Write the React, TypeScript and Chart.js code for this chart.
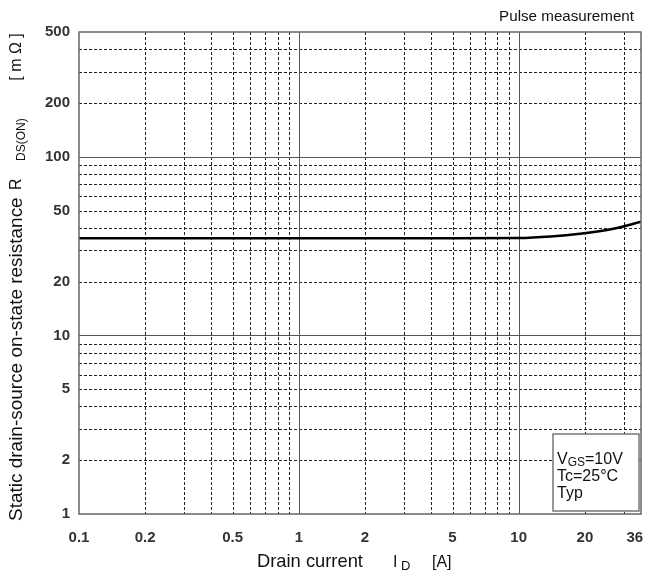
import React, { useEffect, useRef } from "react";
import { Chart, registerables } from "chart.js";
Chart.register(...registerables);

// Data
const currentA = [0.1, 0.5, 1, 5, 10, 14, 19, 27, 36];
const resistanceMOhm = [35, 35, 35, 35, 35.1, 35.8, 37.1, 39.6, 43.3];

const xTickValues = [0.1, 0.2, 0.5, 1, 2, 5, 10, 20, 36];
const yTickValues = [1, 2, 5, 10, 20, 50, 100, 200, 500];

const xGridSolid = [1, 10];
const xGridDashed = [0.2, 0.3, 0.4, 0.5, 0.6, 0.7, 0.8, 0.9, 2, 3, 4, 5, 6, 7, 8, 9, 20, 30];
const yGridSolid = [10, 100];
const yGridDashed = [2, 3, 4, 5, 6, 7, 8, 9, 20, 30, 40, 50, 60, 70, 80, 90, 200, 300, 400];

const yTitleMain = "Static drain-source on-state resistance";
const yTitleSymbol = "R";
const yTitleSub = "DS(ON)";
const yTitleUnit = "[mΩ]";
const xTitleMain = "Drain current";
const xTitleSymbol = "I";
const xTitleSub = "D";
const xTitleUnit = "[A]";
const topNote = "Pulse measurement";
const boxLines = [
  [{ t: "V", s: 16, dy: 0 }, { t: "GS", s: 12, dy: 2 }, { t: "=10V", s: 16, dy: 0 }],
  [{ t: "Tc=25°C", s: 16, dy: 0 }],
  [{ t: "Typ", s: 16, dy: 0 }],
];

const FONT = "'Liberation Sans', Arial, sans-serif";

function fitSize(ctx: CanvasRenderingContext2D, text: string, width: number, base: number) {
  ctx.font = `${base}px ${FONT}`;
  const w = ctx.measureText(text).width;
  return Math.max(base * 0.8, Math.min(base * 1.25, (base * width) / w));
}

const decorPlugin = {
  id: "decor",
  beforeDatasetsDraw(chart: any) {
    const { ctx, chartArea: a, scales } = chart;
    const xs = scales.x;
    const ys = scales.y;
    ctx.save();
    ctx.strokeStyle = "#222";
    ctx.lineWidth = 1;
    ctx.setLineDash([3, 2]);
    for (const v of xGridDashed) {
      const px = Math.round(xs.getPixelForValue(v)) + 0.5;
      ctx.beginPath();
      ctx.moveTo(px, a.top);
      ctx.lineTo(px, a.bottom);
      ctx.stroke();
    }
    for (const v of yGridDashed) {
      const py = Math.round(ys.getPixelForValue(v)) + 0.5;
      ctx.beginPath();
      ctx.moveTo(a.left, py);
      ctx.lineTo(a.right, py);
      ctx.stroke();
    }
    ctx.setLineDash([]);
    ctx.strokeStyle = "#555";
    for (const v of xGridSolid) {
      const px = Math.round(xs.getPixelForValue(v)) + 0.5;
      ctx.beginPath();
      ctx.moveTo(px, a.top);
      ctx.lineTo(px, a.bottom);
      ctx.stroke();
    }
    for (const v of yGridSolid) {
      const py = Math.round(ys.getPixelForValue(v)) + 0.5;
      ctx.beginPath();
      ctx.moveTo(a.left, py);
      ctx.lineTo(a.right, py);
      ctx.stroke();
    }
    ctx.restore();
  },
  afterDraw(chart: any) {
    const { ctx, chartArea: a } = chart;
    ctx.save();
    ctx.strokeStyle = "#666";
    ctx.lineWidth = 1.5;
    ctx.strokeRect(a.left, a.top, a.right - a.left, a.bottom - a.top);

    const bx = a.right - 88, by = a.bottom - 80, bw = 86, bh = 77;
    ctx.fillStyle = "#fff";
    ctx.fillRect(bx, by, bw, bh);
    ctx.strokeStyle = "#777";
    ctx.lineWidth = 1.5;
    ctx.strokeRect(bx, by, bw, bh);
    ctx.fillStyle = "#111";
    ctx.textBaseline = "alphabetic";
    ctx.textAlign = "left";
    boxLines.forEach((parts, i) => {
      let x = bx + 4;
      const y = by + 30 + i * 17;
      for (const p of parts) {
        ctx.font = `${p.s}px ${FONT}`;
        ctx.fillText(p.t, x, y + p.dy);
        x += ctx.measureText(p.t).width;
      }
    });

    ctx.font = `${fitSize(ctx, topNote, 135, 14)}px ${FONT}`;
    ctx.textAlign = "right";
    ctx.textBaseline = "middle";
    ctx.fillText(topNote, 634, 17);

    ctx.textAlign = "left";
    ctx.textBaseline = "alphabetic";
    const xm = fitSize(ctx, xTitleMain, 106, 16);
    ctx.font = `${xm}px ${FONT}`;
    ctx.fillText(xTitleMain, 257, 567);
    ctx.font = `16px ${FONT}`;
    ctx.fillText(xTitleSymbol, 393, 567);
    ctx.font = `13px ${FONT}`;
    ctx.fillText(xTitleSub, 401, 570);
    ctx.font = `16px ${FONT}`;
    ctx.fillText(xTitleUnit, 432, 567);

    ctx.save();
    ctx.rotate(-Math.PI / 2);
    ctx.textBaseline = "middle";
    ctx.textAlign = "left";
    const ym = fitSize(ctx, yTitleMain, 324, 16);
    ctx.font = `${ym}px ${FONT}`;
    ctx.fillText(yTitleMain, -521, 17);
    ctx.font = `16px ${FONT}`;
    ctx.fillText(yTitleSymbol, -190, 17);
    ctx.font = `12px ${FONT}`;
    ctx.fillText(yTitleSub, -161, 22);
    ctx.font = `16px ${FONT}`;
    ctx.textAlign = "center";
    ctx.fillText(yTitleUnit.split("").join(" "), -57, 17);
    ctx.restore();

    ctx.restore();
  },
};

export default function App() {
  const ref = useRef<HTMLCanvasElement | null>(null);
  useEffect(() => {
    if (!ref.current) return;
    const chart = new Chart(ref.current, {
      type: "line",
      data: {
        datasets: [
          {
            data: currentA.map((x, i) => ({ x, y: resistanceMOhm[i] })),
            borderColor: "#000",
            borderWidth: 2.6,
            pointRadius: 0,
            cubicInterpolationMode: "monotone",
            fill: false,
          },
        ],
      },
      options: {
        animation: false,
        responsive: false,
        events: [],
        layout: { padding: { left: 0, right: 0, top: 32, bottom: 0 } },
        plugins: { legend: { display: false }, tooltip: { enabled: false }, title: { display: false } },
        scales: {
          x: {
            type: "logarithmic",
            min: 0.1,
            max: 36,
            grid: { display: false, drawTicks: false },
            border: { display: false },
            afterBuildTicks: (s: any) => {
              s.ticks = xTickValues.map((v) => ({ value: v }));
            },
            afterFit: (s: any) => {
              s.height = 60;
              s.paddingRight = 11;
            },
            ticks: {
              autoSkip: false,
              maxRotation: 0,
              padding: 15,
              color: "#333",
              font: { family: FONT, size: 15, weight: "bold" },
              callback: (v: any) => (v === 36 ? "36   " : String(v)),
            },
          },
          y: {
            type: "logarithmic",
            min: 1,
            max: 500,
            grid: { display: false, drawTicks: false },
            border: { display: false },
            afterBuildTicks: (s: any) => {
              s.ticks = yTickValues.map((v) => ({ value: v }));
            },
            afterFit: (s: any) => {
              s.width = 79;
            },
            ticks: {
              autoSkip: false,
              padding: 9,
              color: "#333",
              font: { family: FONT, size: 15, weight: "bold" },
              callback: (v: any) => String(v),
            },
          },
        },
      },
      plugins: [decorPlugin],
    } as any);
    return () => chart.destroy();
  }, []);
  return (
    <div style={{ position: "absolute", left: 0, top: 0, width: 652, height: 574, background: "#fff" }}>
      <canvas ref={ref} width={652} height={574} style={{ display: "block", width: 652, height: 574 }} />
    </div>
  );
}
